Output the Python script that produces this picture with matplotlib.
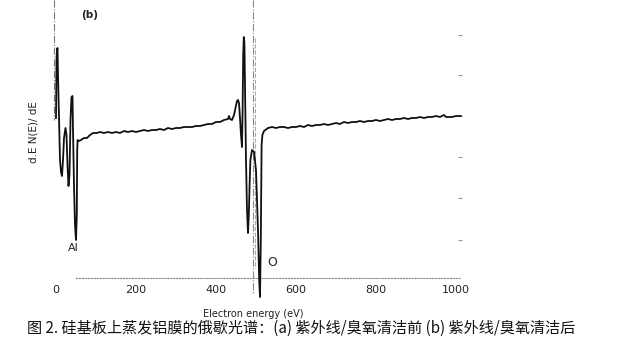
import matplotlib
matplotlib.use("Agg")
import matplotlib.pyplot as plt

# ---- data ----
energy_ev = [0, 1.25, 2.5, 3.75, 5, 7.5, 10, 12.5, 15, 17.5, 20, 23.75, 26.25, 28.75,
             31.25, 33.75, 36.25, 38.75, 41.25, 42.5, 45, 47.5, 50, 52, 53, 54, 57.5,
             62.5, 70, 77.5, 85, 92.5, 102.5, 110,
             120, 130, 140, 150, 160, 170, 180, 190, 200, 210, 220, 230, 240, 250, 260,
             270, 280, 290, 300, 310, 320, 330, 340, 350, 360, 370, 380, 390, 400, 410,
             420, 430, 432.5, 435, 440, 445, 450, 452.5, 455, 457.5, 460, 462.5, 465,
             466.5, 468, 469.5, 471, 473, 475, 477.5, 480, 482, 484, 486, 490, 495, 500,
             505, 508, 510, 512, 514, 516, 520, 530, 540, 550, 560, 570, 580, 590, 600,
             610, 620, 630, 640, 650, 660, 670, 680, 690, 700, 710, 720, 730, 740, 750,
             760, 770, 780, 790, 800, 810, 820, 830, 840, 850, 860, 870, 880, 890, 900,
             910, 920, 930, 940, 950, 960, 970, 975, 980, 990, 1000, 1012]
signal = [160, 218, 228, 230, 203, 158, 118, 106, 102, 118, 140, 150, 143, 113,
          92, 103, 158, 181, 182, 148, 93, 53, 38, 63, 128, 138, 137,
          138, 140, 140, 143, 145, 145, 146,
          145, 146, 145, 146, 145, 147, 146, 147, 146, 147, 148, 147, 148, 148, 149,
          148, 150, 149, 150, 150, 151, 151, 151, 152, 152, 153, 154, 154, 156, 156,
          158, 159, 162, 159, 158, 163, 172, 177, 178, 175, 160, 143, 131,
          168, 223, 241, 236, 178, 118, 68, 45, 63, 93, 118, 128, 126, 108,
          48, -2, -19, 38, 133, 143, 147, 150, 151, 150, 151, 151, 150, 151, 151,
          152, 151, 153, 152, 153, 153, 154, 153, 154, 155, 154, 156, 155, 156, 156,
          157, 156, 157, 157, 158, 157, 158, 159, 158, 159, 159, 160, 159, 160, 160,
          161, 160, 161, 161, 162, 161, 163, 161, 161, 161, 162, 162]

x_ticks = [0, 200, 400, 600, 800, 1000]
right_ticks = [38, 80, 121, 162, 203, 243]

fig = plt.figure(figsize=(6.36, 3.63), dpi=100)
ax = fig.add_axes([56/636, 1 - 278/363, 404/636, 278/363])
ax.set_xlim(0, 1010)
ax.set_ylim(0, 278)

ax.plot(energy_ev, signal, color="#111111", lw=1.3, clip_on=False, zorder=3)

# faint marker lines from the original record
ax.plot([-5, -5], [278, 158], color="#777777", lw=0.8, ls="-.", clip_on=False)
ax.plot([492, 492], [278, -15], color="#888888", lw=0.8, ls="-.", clip_on=False)
ax.plot([498, 498], [240, 10], color="#aaaaaa", lw=0.8, ls="--", clip_on=False)

for s in ["top", "left", "right"]:
    ax.spines[s].set_visible(False)
ax.spines["bottom"].set_linestyle(":")
ax.spines["bottom"].set_color("#888888")
ax.spines["bottom"].set_linewidth(0.8)
ax.spines["bottom"].set_bounds(50, 1010)

ax.set_xticks(x_ticks)
ax.set_xticklabels([str(t) for t in x_ticks])
ax.tick_params(axis="x", length=0, pad=5, labelsize=8, labelcolor="#222222")
ax.yaxis.tick_right()
ax.set_yticks(right_ticks)
ax.tick_params(axis="y", direction="inout", length=3, width=0.8, color="#999999",
               labelright=False, labelleft=False)

ax.set_xlabel("Electron energy (eV)", fontsize=7, color="#222222")
ax.xaxis.set_label_coords((253 - 56) / 404, (278 - 309) / 278)

ax.text(85, 263, "(b)", fontsize=7.5, fontweight="bold", color="#222222",
        ha="center", va="center")
ax.text(42.5, 30, "Al", fontsize=8, color="#222222", ha="center", va="center")
ax.text(540, 16, "O", fontsize=9, color="#222222", ha="center", va="center")

fig.text(33/636, 1 - 132/363, "d.E N(E)/ dE", rotation=90, fontsize=7.5,
         color="#222222", ha="center", va="center")

fig.text(27/636, 1 - 328/363,
         "图 2. 硅基板上蒸发铝膜的俄歇光谱：(a) 紫外线/臭氧清洁前 (b) 紫外线/臭氧清洁后",
         fontsize=10.9, color="#111111", ha="left", va="center",
         family=["Noto Sans CJK SC", "DejaVu Sans"])

fig.savefig("out.png", dpi=100)
